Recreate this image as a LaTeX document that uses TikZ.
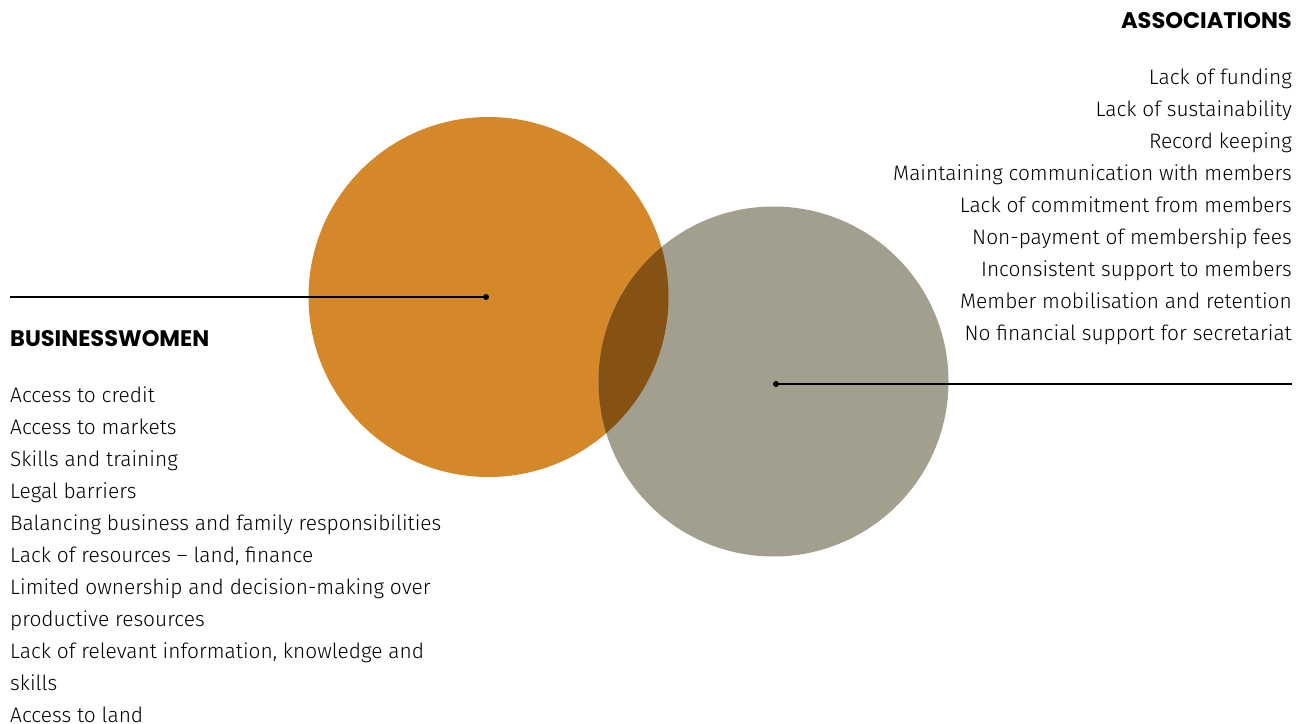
\documentclass[tikz,border=0pt]{standalone}
\usepackage{fontspec}
\setmainfont{Fira Sans Light}
\newfontfamily\headfont{Poppins}[UprightFont=* Bold]
\definecolor{ochre}{HTML}{D4882A}
\definecolor{stone}{HTML}{A39F8E}
\definecolor{umber}{HTML}{855214}
\begin{document}
\begin{tikzpicture}[x=1pt,y=-1pt,
  listtext/.style={inner sep=0pt,font=\fontsize{20.9}{24}\selectfont},
  heading/.style={inner sep=0pt,font=\headfont\fontsize{22.5}{26}\selectfont},
  leader/.style={line width=1.4pt,black},
  dotend/.style={circle,fill=black,inner sep=0pt,minimum size=6pt}]
\useasboundingbox (0,0) rectangle (1296,723);
% the two circles and their overlap
\node[circle,fill=ochre,minimum size=360pt,inner sep=0pt] (bwc) at (488.5,297) {};
\node[circle,fill=stone,minimum size=350pt,inner sep=0pt] (asc) at (773.5,381.5) {};
\begin{scope}
  \clip (488.5,297) circle (180pt);
  \fill[umber] (773.5,381.5) circle (175pt);
\end{scope}
% leader lines
\node[dotend] (bwdot) at (486,297) {};
\node[dotend] (asdot) at (776,384) {};
\coordinate (bwend) at (10,297);
\coordinate (asend) at (1292,384);
\draw[leader] (bwend) -- (bwdot.center);
\draw[leader] (asdot.center) -- (asend);
% headings
\node[heading,anchor=base west] (bwhead) at (10,346) {BUSINESSWOMEN};
\node[heading,anchor=base east] (ashead) at (1292,28) {ASSOCIATIONS};
% businesswomen list
\foreach \t [count=\i] in {Access to credit,Access to markets,Skills and training,Legal barriers,
  Balancing business and family responsibilities,{Lack of resources – land, finance},
  Limited ownership and decision-making over,productive resources,
  {Lack of relevant information, knowledge and},skills,Access to land}
  \node[listtext,anchor=base west] (bw\i) at (10,{370+32*\i}) {\t};
% associations list
\foreach \t [count=\i] in {Lack of funding,Lack of sustainability,Record keeping,
  Maintaining communication with members,Lack of commitment from members,
  Non-payment of membership fees,Inconsistent support to members,
  Member mobilisation and retention,No financial support for secretariat}
  \node[listtext,anchor=base east] (as\i) at (1292,{52+32*\i}) {\t};
\end{tikzpicture}
\end{document}
